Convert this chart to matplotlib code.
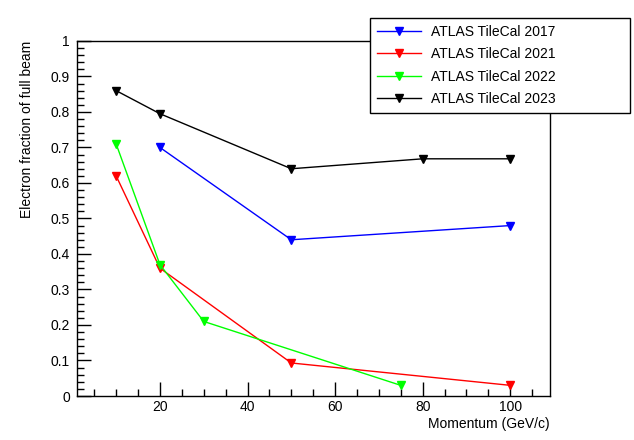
import numpy as np
import matplotlib.pyplot as plt
from matplotlib.ticker import MultipleLocator

plt.rcParams['font.family'] = ['Liberation Sans', 'DejaVu Sans']

# Data
p2017 = [20, 50, 100]
f2017 = [0.70, 0.44, 0.48]
p2021 = [10, 20, 50, 100]
f2021 = [0.62, 0.36, 0.093, 0.03]
p2022 = [10, 20, 30, 75]
f2022 = [0.71, 0.37, 0.21, 0.03]
p2023 = [10, 20, 50, 80, 100]
f2023 = [0.86, 0.795, 0.64, 0.668, 0.668]

labels = ['ATLAS TileCal 2017', 'ATLAS TileCal 2021',
          'ATLAS TileCal 2022', 'ATLAS TileCal 2023']
colors = ['#0000ff', '#ff0000', '#00ff00', '#000000']

fig = plt.figure(figsize=(6.34, 4.4), dpi=100)
ax = fig.add_axes([0.121, 0.1, 0.746, 0.807])

series = [(p2017, f2017), (p2021, f2021), (p2022, f2022), (p2023, f2023)]
for (x, y), lab, c in zip(series, labels, colors):
    ax.plot(x, y, color=c, lw=1, marker='v', ms=6, mec=c, mfc=c, label=lab)

ax.set_xlim(1, 109)
ax.set_ylim(0, 1)

# ROOT-like ticks
ax.xaxis.set_major_locator(MultipleLocator(20))
ax.xaxis.set_minor_locator(MultipleLocator(5))
ax.yaxis.set_major_locator(MultipleLocator(0.1))
ax.yaxis.set_minor_locator(MultipleLocator(0.02))
ax.tick_params(which='both', direction='in', top=False, right=False, labelsize=10)
ax.tick_params(which='major', length=10, width=1)
ax.tick_params(which='minor', length=5, width=1)
ax.tick_params(axis='x', pad=3)
ax.tick_params(axis='y', pad=5)
ax.set_yticks(np.arange(0, 1.01, 0.1))
ax.set_yticklabels(['0'] + ['%.1f' % v for v in np.arange(0.1, 0.95, 0.1)] + ['1'])

for s in ax.spines.values():
    s.set_linewidth(1)

ax.set_xlabel('Momentum (GeV/c)', fontsize=10, loc='right', labelpad=2)
ax.set_ylabel('Electron fraction of full beam', fontsize=10, loc='top', labelpad=12)

leg = ax.legend(loc='upper left',
                bbox_to_anchor=(370 / 634, 1 - 107 / 440, 260 / 634, 89 / 440),
                bbox_transform=fig.transFigure, mode='expand', borderaxespad=0,
                fontsize=10, frameon=True, fancybox=False, edgecolor='black',
                handlelength=3.2, borderpad=0.5, labelspacing=0.6,
                handletextpad=0.7)
leg.get_frame().set_linewidth(1)
leg.get_frame().set_alpha(1)

fig.savefig('out.png', dpi=100)
